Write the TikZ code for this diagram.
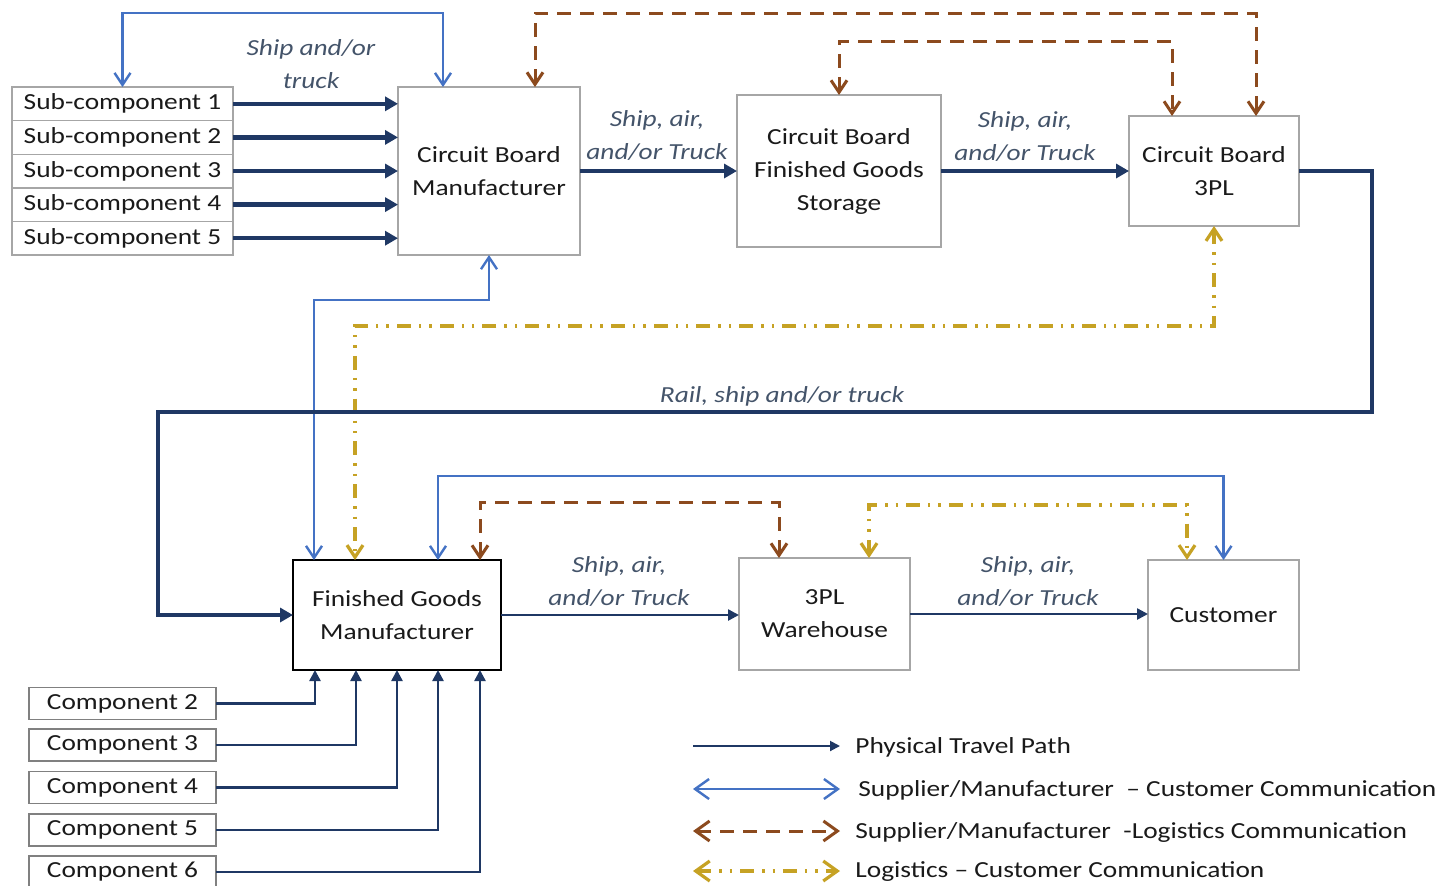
\documentclass[tikz,border=0pt]{standalone}
\usepackage{fontspec}
\setmainfont{Carlito}[FakeStretch=1.19]
\usetikzlibrary{arrows.meta,calc}
\definecolor{navy}{HTML}{1F3864}
\definecolor{cblue}{HTML}{4472C4}
\definecolor{cbrown}{HTML}{8C4A1E}
\definecolor{cgold}{HTML}{C6A224}
\definecolor{lbl}{HTML}{44546A}
\definecolor{boxgray}{HTML}{A6A6A6}
\definecolor{txt}{HTML}{1A1A1A}
\begin{document}
\begin{tikzpicture}[x=0.5pt,y=-0.5pt,
  font=\fontsize{11.5pt}{16.5pt}\selectfont,
  box/.style={draw=boxgray,line width=0.7pt,fill=white,inner sep=0pt,outer sep=0pt,align=center,text=txt},
  lab/.style={font=\fontsize{11.5pt}{16.5pt}\selectfont\itshape,text=lbl,align=center,inner sep=0pt},
  legtext/.style={anchor=west,inner sep=0pt,text=txt},
  phys/.style={draw=navy,line width=2.2pt,-{Triangle[length=6.5pt,width=7pt]}},
  physthin/.style={draw=navy,line width=1.25pt,-{Triangle[length=5.5pt,width=5.5pt]}},
  blu/.style={draw=cblue,line width=1.2pt,{Straight Barb[length=6pt,width=8pt]}-{Straight Barb[length=6pt,width=8pt]}},
  brn/.style={draw=cbrown,line width=1.5pt,dash pattern=on 7pt off 4.5pt,{Straight Barb[length=6pt,width=8pt]}-{Straight Barb[length=6pt,width=8pt]}},
  gld/.style={draw=cgold,line width=1.6pt,dash pattern=on 7pt off 4pt on 1.2pt off 4pt on 1.2pt off 4pt,{Straight Barb[length=6pt,width=8pt]}-{Straight Barb[length=6pt,width=8pt]}}
]
\fill[white] (0,0) rectangle (1442,885);
\useasboundingbox (0,0) rectangle (1442,885);

% sub-components
\node[box,minimum width=110.5pt,minimum height=16.8pt] (sc1) at (122.5,103.8) {Sub-component 1};
\node[box,minimum width=110.5pt,minimum height=16.8pt] (sc2) at (122.5,137.4) {Sub-component 2};
\node[box,minimum width=110.5pt,minimum height=16.8pt] (sc3) at (122.5,171) {Sub-component 3};
\node[box,minimum width=110.5pt,minimum height=16.8pt] (sc4) at (122.5,204.6) {Sub-component 4};
\node[box,minimum width=110.5pt,minimum height=16.8pt] (sc5) at (122.5,238.2) {Sub-component 5};

% main boxes
\node[box,minimum width=91pt,minimum height=84pt] (cbm) at (489,171) {Circuit Board\\Manufacturer};
\node[box,minimum width=102pt,minimum height=76pt] (cbfgs) at (839,171) {Circuit Board\\Finished Goods\\Storage};
\node[box,minimum width=85pt,minimum height=55pt] (cb3pl) at (1214,171) {Circuit Board\\3PL};
\node[box,draw=black,line width=0.9pt,minimum width=104pt,minimum height=55pt] (fgm) at (397,615) {Finished Goods\\Manufacturer};
\node[box,minimum width=85.5pt,minimum height=56pt] (tplw) at (824.5,614) {3PL\\Warehouse};
\node[box,minimum width=75.5pt,minimum height=55pt] (cust) at (1223.5,615) {Customer};

% components
\node[box,draw=gray,minimum width=93.5pt,minimum height=16pt] (c2) at (122.5,703.5) {Component 2};
\node[box,draw=gray,minimum width=93.5pt,minimum height=16pt] (c3) at (122.5,745) {Component 3};
\node[box,draw=gray,minimum width=93.5pt,minimum height=16pt] (c4) at (122.5,787.5) {Component 4};
\node[box,draw=gray,minimum width=93.5pt,minimum height=16pt] (c5) at (122.5,830) {Component 5};
\node[box,draw=gray,minimum width=93.5pt,minimum height=16pt] (c6) at (122.5,872) {Component 6};

% communication lines
\draw[blu] (sc1.north) |- (300,13) -| ($(cbm.north west)+(45,0)$);
\draw[brn] ($(cbm.north west)+(137,0)$) |- (900,13) -| ($(cb3pl.north west)+(127,0)$);
\draw[brn] (cbfgs.north) |- (1000,41) -| ($(cb3pl.north west)+(43,0)$);
\draw[blu] (cbm.south) |- (400,300) -| ($(fgm.north west)+(21,0)$);
\draw[gld] (cb3pl.south) |- (800,326) -| ($(fgm.north west)+(62,0)$);
\draw[blu] ($(fgm.north west)+(145,0)$) |- (800,476) -| (cust.north);
\draw[brn] ($(fgm.north west)+(187,0)$) |- (600,502) -| ($(tplw.north west)+(40,0)$);
\draw[gld] ($(tplw.north west)+(130,0)$) |- (1000,505) -| ($(cust.north west)+(39,0)$);

% physical paths
\foreach \i in {1,...,5} \draw[phys] (sc\i.east) -- (sc\i.east -| cbm.west);
\draw[phys] (cbm.east) -- (cbfgs.west);
\draw[phys] (cbfgs.east) -- (cb3pl.west);
\coordinate (r1) at (1372,412);
\coordinate (r2) at (158,412);
\draw[phys] (cb3pl.east) -| (r1) -- (r2) |- (fgm.west);
\draw[physthin] (fgm.east) -- (fgm.east -| tplw.west);
\draw[physthin] (tplw.east) -- (tplw.east -| cust.west);
\foreach \i/\dx in {2/-82,3/-41,4/0,5/41,6/83}
  \draw[physthin] (c\i.east) -| ($(fgm.south)+(\dx,0)$);

% labels
\node[lab] (l1) at (311,64) {Ship and/or\\truck};
\node[lab] (l2) at (657,135.5) {Ship, air,\\and/or Truck};
\node[lab] (l3) at (1025,137) {Ship, air,\\and/or Truck};
\node[lab] (l4) at (782,396) {Rail, ship and/or truck};
\node[lab] (l5) at (619,581.5) {Ship, air,\\and/or Truck};
\node[lab] (l6) at (1028,581.5) {Ship, air,\\and/or Truck};

% legend
\coordinate (g1a) at (693,746); \coordinate (g1b) at (840,746);
\coordinate (g2a) at (693,789); \coordinate (g2b) at (840,789);
\coordinate (g3a) at (693,831); \coordinate (g3b) at (840,831);
\coordinate (g4a) at (693,871); \coordinate (g4b) at (840,871);
\draw[draw=navy,line width=1pt,-{Triangle[length=5pt,width=5pt]}] (g1a) -- (g1b);
\draw[blu,{Straight Barb[length=7pt,width=10pt]}-{Straight Barb[length=7pt,width=10pt]}] (g2a) -- (g2b);
\draw[brn,{Straight Barb[length=7pt,width=10pt]}-{Straight Barb[length=7pt,width=10pt]}] (g3a) -- (g3b);
\draw[gld,{Straight Barb[length=7pt,width=10pt]}-{Straight Barb[length=7pt,width=10pt]}] (g4a) -- (g4b);
\node[legtext] (t1) at (855,747) {Physical Travel Path};
\node[legtext] (t2) at (858,790) {Supplier/Manufacturer\ \ – Customer Communication};
\node[legtext] (t3) at (855,832) {Supplier/Manufacturer\ \ -Logistics Communication};
\node[legtext] (t4) at (855,872) {Logistics – Customer Communication};
\end{tikzpicture}
\end{document}
